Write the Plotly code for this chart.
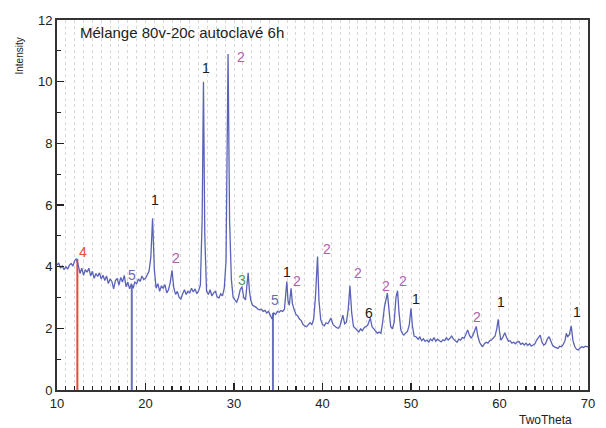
import plotly.graph_objects as go

# ---------------- data ----------------
two_theta = [
    10.0, 10.2, 10.4, 10.6, 10.8, 11.0, 11.2, 11.4, 11.6, 11.8, 12.0, 12.2, 12.4, 12.6, 12.8,
    13.0, 13.2, 13.4, 13.6, 13.8, 14.0, 14.2, 14.4, 14.6, 14.8, 15.0, 15.2, 15.4, 15.6, 15.8,
    16.0, 16.2, 16.4, 16.6, 16.8, 17.0, 17.2, 17.4, 17.6, 17.8, 18.0, 18.2, 18.4, 18.6, 18.8,
    19.0, 19.2, 19.4, 19.6, 19.8, 20.0, 20.2, 20.4, 20.6, 20.8, 21.0, 21.2, 21.4, 21.6, 21.8,
    22.0, 22.2, 22.4, 22.6, 22.8, 23.0, 23.2, 23.4, 23.6, 23.8, 24.0, 24.2, 24.4, 24.6, 24.8,
    25.0, 25.2, 25.4, 25.6, 25.8, 26.0, 26.2, 26.4, 26.55, 26.7, 26.9, 27.1, 27.3, 27.5, 27.7,
    27.9, 28.1, 28.3, 28.5, 28.7, 28.9, 29.1, 29.33, 29.5, 29.7, 29.9, 30.1, 30.3, 30.5, 30.7,
    30.9, 31.1, 31.3, 31.5, 31.6, 31.75, 31.9, 32.1, 32.3, 32.5, 32.7, 32.9, 33.1, 33.3, 33.5,
    33.7, 33.9, 34.1, 34.3, 34.5, 34.7, 34.9, 35.1, 35.3, 35.5, 35.7, 35.85, 35.97, 36.1, 36.25,
    36.45, 36.6, 36.8, 37.0, 37.2, 37.4, 37.6, 37.8, 38.0, 38.2, 38.4, 38.6, 38.8, 39.0, 39.2,
    39.44, 39.6, 39.8, 40.0, 40.2, 40.4, 40.6, 40.8, 40.96, 41.2, 41.4, 41.6, 41.8, 42.0, 42.3,
    42.5, 42.7, 42.9, 43.1, 43.3, 43.5, 43.7, 43.9, 44.1, 44.3, 44.5, 44.7, 44.9, 45.1, 45.4,
    45.6, 45.8, 46.0, 46.2, 46.4, 46.6, 46.8, 47.0, 47.33, 47.5, 47.7, 47.9, 48.1, 48.3, 48.48,
    48.65, 48.85, 49.05, 49.2, 49.4, 49.6, 49.8, 50.0, 50.15, 50.35, 50.6, 50.8, 51.0, 51.2, 51.4,
    51.6, 51.8, 52.0, 52.2, 52.4, 52.6, 52.8, 53.0, 53.2, 53.4, 53.6, 53.8, 54.0, 54.2, 54.4,
    54.6, 54.8, 55.0, 55.2, 55.4, 55.6, 55.8, 56.0, 56.2, 56.4, 56.6, 56.8, 57.0, 57.2, 57.37,
    57.55, 57.75, 57.95, 58.1, 58.3, 58.5, 58.7, 58.9, 59.1, 59.3, 59.5, 59.7, 59.85, 60.0, 60.15,
    60.35, 60.6, 60.8, 61.0, 61.2, 61.4, 61.6, 61.8, 62.0, 62.2, 62.4, 62.6, 62.8, 63.0, 63.2,
    63.4, 63.6, 63.8, 64.0, 64.2, 64.4, 64.6, 64.8, 65.0, 65.2, 65.4, 65.6, 65.8, 66.0, 66.2,
    66.4, 66.6, 66.8, 67.0, 67.2, 67.4, 67.55, 67.7, 67.9, 68.1, 68.3, 68.5, 68.7, 68.9, 69.1,
    69.3, 69.5, 69.7, 69.9, 70.0,
]
intensity = [
    4.05, 4.12, 3.95, 4.02, 3.90, 4.00, 3.92, 4.05, 4.10, 4.02, 4.20, 4.26, 4.05, 3.78, 3.95,
    3.72, 3.90, 3.82, 3.95, 3.70, 3.85, 3.62, 3.78, 3.68, 3.80, 3.60, 3.72, 3.55, 3.70, 3.45,
    3.60, 3.52, 3.28, 3.55, 3.62, 3.40, 3.65, 3.50, 3.72, 3.35, 3.50, 3.28, 3.45, 3.30, 3.50,
    3.45, 3.60, 3.52, 3.70, 3.58, 3.62, 3.75, 3.85, 4.30, 5.57, 3.90, 3.30, 3.45, 3.20, 3.38,
    3.30, 3.42, 3.15, 3.25, 3.50, 3.88, 3.30, 3.10, 3.20, 3.00, 2.95, 3.12, 3.25, 3.10, 3.20,
    3.15, 3.30, 3.18, 3.28, 3.12, 3.22, 3.40, 5.50, 10.00, 5.00, 3.20, 3.10, 3.25, 3.05, 3.15,
    3.20, 3.02, 2.98, 3.12, 3.05, 3.30, 4.20, 10.90, 5.50, 3.60, 3.00, 2.92, 2.85, 3.00, 3.25,
    3.35, 3.00, 2.92, 3.40, 3.80, 3.20, 2.90, 2.75, 2.72, 2.68, 2.62, 2.60, 2.62, 2.55, 2.58,
    2.50, 2.55, 2.40, 2.30, 2.50, 2.45, 2.55, 2.52, 2.58, 2.55, 2.62, 3.00, 3.52, 2.90, 2.75,
    3.30, 2.80, 2.60, 2.45, 2.40, 2.30, 2.25, 2.12, 2.08, 2.05, 2.12, 2.18, 2.12, 2.30, 3.00,
    4.33, 2.90, 2.28, 2.12, 2.08, 2.18, 2.15, 2.25, 2.33, 2.12, 2.06, 2.02, 2.00, 2.10, 2.43,
    2.15, 2.20, 2.60, 3.38, 2.50, 2.06, 2.00, 1.92, 1.88, 1.98, 1.92, 2.02, 2.05, 2.10, 2.33,
    2.05, 1.98, 1.90, 1.84, 1.88, 1.84, 2.20, 2.70, 3.14, 2.70, 2.06, 1.98, 2.20, 3.00, 3.22,
    2.50, 1.95, 1.82, 1.78, 1.85, 1.90, 2.10, 2.65, 2.10, 1.75, 1.72, 1.65, 1.72, 1.60, 1.66,
    1.58, 1.62, 1.55, 1.65, 1.60, 1.70, 1.58, 1.65, 1.60, 1.56, 1.63, 1.60, 1.70, 1.62, 1.68,
    1.75, 1.65, 1.60, 1.55, 1.65, 1.62, 1.70, 1.68, 1.80, 1.95, 1.78, 1.68, 1.78, 1.95, 2.06,
    1.75, 1.55, 1.45, 1.41, 1.50, 1.55, 1.52, 1.60, 1.62, 1.68, 1.75, 2.00, 2.29, 1.90, 1.62,
    1.70, 1.86, 1.70, 1.58, 1.60, 1.52, 1.55, 1.50, 1.56, 1.57, 1.48, 1.52, 1.46, 1.52, 1.45,
    1.50, 1.42, 1.45, 1.50, 1.62, 1.70, 1.78, 1.55, 1.46, 1.50, 1.65, 1.73, 1.60, 1.45, 1.40,
    1.38, 1.35, 1.42, 1.40, 1.48, 1.60, 1.84, 1.72, 1.80, 2.08, 1.60, 1.41, 1.32, 1.30, 1.36,
    1.40, 1.38, 1.42, 1.40, 1.42,
]

# reference sticks
stick_x = [12.3, 18.45, 34.4]
stick_h = [4.25, 3.4, 2.5]
stick_colors = ["#e8493f", "#6a6fc0", "#6a6fc0"]

# phase labels
label_text = ["4", "5", "1", "2", "1", "2", "3", "5", "1", "2", "2", "2", "6", "2", "2", "1", "2", "1", "1"]
label_x = [12.9, 18.5, 21.1, 23.5, 26.8, 30.8, 30.9, 34.6, 36.0, 37.1, 40.5, 44.0, 45.3, 47.2, 49.15, 50.6, 57.5, 60.2, 68.7]
label_y = [4.49, 3.73, 6.17, 4.27, 10.44, 10.8, 3.57, 2.92, 3.84, 3.52, 4.57, 3.81, 2.49, 3.38, 3.52, 2.94, 2.36, 2.87, 2.54]
phase_colors = {"1": "#1a1a1a", "2": "#b35cb0", "3": "#4e9e4e", "4": "#e8493f", "5": "#6a6ab8", "6": "#1a1a1a"}

x_ticks = [10, 20, 30, 40, 50, 60, 70]
y_ticks = [0, 2, 4, 6, 8, 10, 12]

# ---------------- figure ----------------
W, H = 606, 428
L, R, T, B = 57, 11, 20, 38
PW, PH = W - L - R, H - T - B

fig = go.Figure()

for sx, sh, sc in zip(stick_x, stick_h, stick_colors):
    fig.add_trace(go.Scatter(x=[sx, sx], y=[0, sh], mode="lines",
                             line=dict(color=sc, width=2), showlegend=False, hoverinfo="skip"))

fig.add_trace(go.Scatter(x=two_theta, y=intensity, mode="lines",
                         line=dict(color="#5a62b8", width=1.3), showlegend=False))

for t, lx, ly in zip(label_text, label_x, label_y):
    fig.add_annotation(x=lx, y=ly, text=t, showarrow=False, xanchor="center", yanchor="middle",
                       font=dict(size=14, color=phase_colors[t], family="Liberation Sans"))

fig.add_annotation(xref="paper", yref="paper", x=21 / PW, y=(PH - 13) / PH, xanchor="left", yanchor="middle",
                   text="Mélange 80v-20c autoclavé 6h", showarrow=False,
                   font=dict(size=15, color="#222", family="Liberation Sans"))
fig.add_annotation(xref="paper", yref="paper", x=-38 / PW, y=(PH - 36) / PH,
                   xanchor="center", yanchor="middle",
                   text="Intensity", textangle=-90, showarrow=False,
                   font=dict(size=10, color="#222", family="Liberation Sans"))
fig.add_annotation(xref="paper", yref="paper", x=495 / PW, y=-30 / PH,
                   xanchor="center", yanchor="middle",
                   text="TwoTheta", showarrow=False,
                   font=dict(size=12, color="#222", family="Liberation Sans"))

axis_common = dict(showline=True, mirror=True, linecolor="#333", linewidth=2,
                   ticks="inside", ticklen=7, tickwidth=1.5, tickcolor="#222",
                   zeroline=False, showgrid=False,
                   tickfont=dict(size=13, color="#222", family="Liberation Sans"))

fig.update_xaxes(range=[10, 70], tickvals=x_ticks, **axis_common,
                 minor=dict(ticks="inside", ticklen=4, tickwidth=1.2, tickcolor="#222", dtick=1,
                            showgrid=True, gridcolor="#d8d8d8", griddash="dot", gridwidth=1))
fig.update_yaxes(range=[0, 12], tickvals=y_ticks, **axis_common,
                 minor=dict(ticks="inside", ticklen=4, tickwidth=1.2, tickcolor="#222", dtick=1))

fig.update_layout(width=W, height=H, margin=dict(l=L, r=R, t=T, b=B),
                  plot_bgcolor="white", paper_bgcolor="white", hovermode=False,
                  font=dict(family="Liberation Sans"))

# remove the default page margin so the figure fills the window exactly
fig.write_html("out.html", config={"displayModeBar": False, "staticPlot": True},
               post_script="document.body.style.margin='0';document.body.style.overflow='hidden';")
